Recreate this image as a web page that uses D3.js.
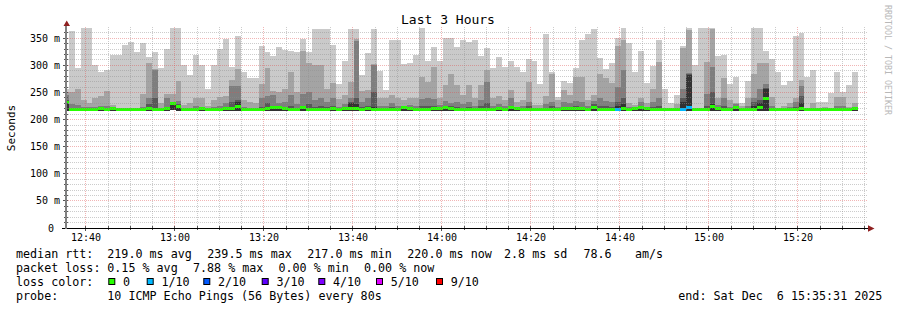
<!DOCTYPE html>
<html>
<head>
<meta charset="utf-8">
<script src="https://cdn.jsdelivr.net/npm/d3@7"></script>
<style>
  body { margin: 0; background: #fff; }
  svg text { font-family: "DejaVu Sans Mono", monospace; white-space: pre; }
</style>
</head>
<body>
<svg id="chart" width="897" height="310"></svg>
<script>
// smokeping data, one entry per 80s step (ms). pings sorted, p10 = slowest
var maxPing = [256,
  363,295,369,369,301,288,292,320,320,337,
  343,324,341,316,324,295,330,369,369,301,
  282,320,301,257,301,330,349,297,355,288,
  276,277,336,324,317,334,328,326,324,348,
  324,367,368,368,337,266,309,368,368,282,
  322,367,289,254,346,346,303,304,319,369,
  309,334,308,351,351,334,347,343,346,317,
  332,295,316,297,308,297,288,312,308,266,
  358,288,242,271,268,295,346,358,368,314,
  294,305,351,369,341,288,327,268,299,346,
  256,231,245,335,369,300,369,369,369,317,
  320,266,279,230,271,369,369,326,311,288,
  263,272,354,360,279,291,233,233,249,287,
  251,263,288];
var ping9 = [251,
  251,257,236,230,239,243,252,227,222,222,
  220,222,247,304,293,230,248,247,271,227,
  231,239,239,225,236,242,243,273,293,236,
  233,230,266,295,252,251,257,288,251,326,
  304,300,300,257,268,238,245,269,349,252,
  254,303,239,239,245,239,236,240,239,279,
  269,297,239,263,284,263,245,263,239,263,
  291,239,243,236,254,233,236,269,227,227,
  243,285,236,254,245,279,279,236,245,285,
  277,268,335,346,230,227,239,230,257,306,
  221,221,229,333,366,221,221,306,368,240,
  277,236,231,225,239,285,304,304,241,222,
  225,230,239,273,221,231,222,224,222,241,
  241,224,231];
var ping8 = [246,
  228,227,224,223,224,225,226,222,220,220,
  219,220,224,240,291,222,240,233,235,221,
  222,225,224,221,224,226,230,262,262,223,
  222,222,240,243,245,230,232,245,228,248,
  250,236,240,232,240,224,228,240,345,232,
  240,300,226,225,230,226,226,227,226,238,
  240,238,227,235,230,232,228,233,226,237,
  269,226,228,226,240,224,225,233,222,222,
  228,233,224,232,230,235,232,225,235,240,
  235,232,260,291,223,222,233,224,232,240,
  219,219,222,257,286,219,219,247,297,227,
  240,224,228,221,226,240,257,265,226,220,
  221,223,233,262,219,222,220,221,220,226,
  226,221,223];
var ping7 = [236,
  222,222,221,221,221,222,221,221,219,219,
  219,219,221,228,240,220,224,231,228,220,
  220,221,221,220,221,222,223,232,236,220,
  220,220,224,230,226,224,223,225,222,226,
  228,224,226,223,226,221,222,232,240,224,
  226,250,221,221,223,222,224,223,222,226,
  226,226,222,226,225,224,222,224,222,225,
  230,221,224,222,226,222,221,225,220,220,
  222,225,221,224,224,226,224,221,229,226,
  225,224,232,240,220,221,226,222,224,226,
  219,219,220,240,284,219,219,226,250,223,
  226,220,225,220,221,232,236,258,222,219,
  220,221,224,243,219,220,219,219,219,221,
  222,219,221];
var ping6 = [233,
  220,220,220,220,220,221,219,221,219,219,
  219,219,220,222,221,219,221,230,226,219,
  219,220,220,219,220,220,222,224,233,219,
  219,219,220,222,223,223,221,221,220,223,
  221,221,221,220,221,220,221,230,228,221,
  222,224,220,219,220,220,223,222,220,221,
  221,221,221,224,222,221,220,221,220,221,
  220,219,222,220,223,221,220,221,219,219,
  220,221,220,221,222,222,222,220,224,221,
  221,221,225,228,219,220,224,221,221,221,
  219,219,219,233,282,219,219,220,228,222,
  221,219,223,219,219,226,230,257,220,219,
  219,219,220,230,219,219,219,219,219,219,
  220,219,220];
var minPing = [216,
  216,216,216,216,216,216,216,216,216,216,
  216,216,216,216,216,216,216,217,216,216,
  216,216,216,216,216,216,216,216,216,216,
  216,216,216,216,216,216,216,216,216,216,
  216,216,216,216,216,216,216,216,216,216,
  216,216,216,216,216,216,216,216,216,216,
  216,216,216,216,216,216,216,216,216,216,
  216,216,216,216,216,216,216,216,216,216,
  216,216,216,216,216,216,216,216,216,216,
  216,216,216,216,216,216,216,216,216,216,
  216,216,216,216,216,216,216,216,216,216,
  216,216,216,216,216,216,216,216,216,216,
  216,216,216,216,216,216,216,216,216,216,
  216,216,216];
var medianRtt = [231,
  219,219,219,219,219,220,218,220,218,218,
  218,219,219,220,218,218,220,229,224,218,
  219,219,220,218,219,219,221,221,224,218,
  218,218,218,220,222,222,220,219,219,222,
  219,219,219,219,220,219,220,221,220,219,
  220,218,219,218,219,218,222,221,219,219,
  219,220,220,223,221,219,219,219,219,219,
  218,218,221,219,222,220,219,219,218,219,
  219,219,219,220,221,221,221,219,222,219,
  219,219,219,221,218,220,222,221,219,218,
  218,218,218,219,222,218,218,218,224,221,
  219,218,222,219,218,218,223,239.5,218,218,
  218,218,218,220,218,218,218,218,218,218,
  219,218,220];
// lost pings out of 10
var lostPings = [0,
  0,0,0,0,0,0,0,0,0,0,
  0,0,0,0,0,0,0,0,0,0,
  0,0,0,0,0,0,0,0,0,0,
  0,0,0,0,0,0,0,0,0,0,
  0,0,0,0,0,0,0,0,0,0,
  0,0,0,0,0,0,0,0,0,0,
  0,0,0,0,0,0,0,0,0,0,
  0,0,0,0,0,0,0,0,0,0,
  0,0,0,0,0,0,0,0,0,0,
  0,0,1,0,0,0,0,0,0,0,
  0,0,0,1,1,0,0,0,0,0,
  0,0,0,0,0,0,0,0,0,0,
  0,0,0,0,0,0,0,0,0,0,
  0,0,0];

var yTicks = [0, 50, 100, 150, 200, 250, 300, 350];
var lossLevels = [0, 1, 2, 3, 4, 5, 9];
var lossLabels = ["0", "1/10", "2/10", "3/10", "4/10", "5/10", "9/10"];
var lossColors = ["#26ff00", "#00b8ff", "#0059ff", "#5e00ff", "#7e00ff", "#dd00ff", "#ff0000"];
var rttStats = ["219.0 ms avg", "239.5 ms max", "217.0 ms min", "220.0 ms now", "2.8 ms sd", "78.6", "am/s"];
var lossStats = ["0.15 % avg", "7.88 % max", "0.00 % min", "0.00 % now"];
var probeText = "10 ICMP Echo Pings (56 Bytes) every 80s";
var endText = "end: Sat Dec  6 15:35:31 2025";

var graphStart = new Date(2025, 11, 6, 12, 35, 31);
var graphEnd = new Date(2025, 11, 6, 15, 35, 31);
var firstBin = new Date(2025, 11, 6, 12, 34, 48);
var step = 80;

var svg = d3.select("#chart");
var plotLeft = 66, plotRight = 867, plotTop = 28, plotBottom = 228;

var x = d3.scaleTime().domain([graphStart, graphEnd]).range([plotLeft, plotRight]);
var y = d3.scaleLinear().domain([0, 369]).range([plotBottom, plotTop]);

var rows = maxPing.map(function(d, i) {
  var t0 = d3.timeSecond.offset(firstBin, i * step);
  return { t0: t0, t1: d3.timeSecond.offset(t0, step), lo: minPing[i],
    p10: d, p9: ping9[i], p8: ping8[i], p7: ping7[i], p6: ping6[i],
    med: medianRtt[i], loss: lostPings[i] };
});

svg.append("clipPath").attr("id", "plotclip")
  .append("rect").attr("x", plotLeft).attr("y", plotTop - 2)
  .attr("width", plotRight - plotLeft + 1).attr("height", plotBottom - plotTop + 2);

var plot = svg.append("g").attr("clip-path", "url(#plotclip)");

// smoke: outer pings lightest, inner pings darker
var bands = [
  { key: "p10", color: "#cacaca" },
  { key: "p9", color: "#a4a4a4" },
  { key: "p8", color: "#7e7e7e" },
  { key: "p7", color: "#585858" },
  { key: "p6", color: "#323232" }
];
bands.forEach(function(b) {
  plot.append("g").selectAll("rect").data(rows).enter().append("rect")
    .attr("x", function(d) { return x(d.t0); })
    .attr("width", function(d) { return x(d.t1) - x(d.t0); })
    .attr("y", function(d) { return y(d[b.key]); })
    .attr("height", function(d) { return y(d.lo) - y(d[b.key]); })
    .attr("fill", b.color)
    .attr("shape-rendering", "crispEdges");
});

function lossColor(n) {
  var c = lossColors[0];
  lossLevels.forEach(function(l, i) { if (n >= l) c = lossColors[i]; });
  return c;
}

// median, coloured by loss
plot.append("g").selectAll("rect").data(rows).enter().append("rect")
  .attr("x", function(d) { return x(d.t0); })
  .attr("width", function(d) { return x(d.t1) - x(d.t0); })
  .attr("y", function(d) { return y(d.med) - 1.5; })
  .attr("height", 3)
  .attr("fill", function(d) { return lossColor(d.loss); })
  .attr("shape-rendering", "crispEdges");

// grid (rrdtool draws it over the graph)
var grid = svg.append("g").attr("shape-rendering", "crispEdges");
var minorGrid = "rgba(143,143,143,0.45)", majorGrid = "rgba(222,79,79,0.42)";

d3.range(10, 369, 10).forEach(function(v) {
  grid.append("line").attr("x1", plotLeft).attr("x2", plotRight + 1)
    .attr("y1", y(v)).attr("y2", y(v))
    .attr("stroke", v % 50 === 0 ? majorGrid : minorGrid)
    .attr("stroke-dasharray", "1,1");
});

var minorTimes = d3.timeMinute.every(5).range(graphStart, graphEnd);
var majorTimes = minorTimes.filter(function(t) { return t.getMinutes() % 20 === 0; });
minorTimes.forEach(function(t) {
  var major = t.getMinutes() % 20 === 0;
  grid.append("line").attr("x1", x(t)).attr("x2", x(t))
    .attr("y1", plotTop - 1).attr("y2", plotBottom)
    .attr("stroke", major ? majorGrid : minorGrid)
    .attr("stroke-dasharray", "1,1");
});

// axes
var axes = svg.append("g").attr("shape-rendering", "crispEdges");
minorTimes.forEach(function(t) {
  var major = t.getMinutes() % 20 === 0;
  axes.append("line").attr("x1", x(t)).attr("x2", x(t))
    .attr("y1", plotBottom - 2).attr("y2", plotBottom + (major ? 3 : 2))
    .attr("stroke", "#555");
});
d3.range(10, 369, 10).forEach(function(v) {
  axes.append("line").attr("x1", plotLeft - (v % 50 === 0 ? 3 : 2)).attr("x2", plotLeft + 2)
    .attr("y1", y(v)).attr("y2", y(v)).attr("stroke", "#555");
});
axes.append("line").attr("x1", 62).attr("x2", 870)
  .attr("y1", plotBottom + 0.5).attr("y2", plotBottom + 0.5).attr("stroke", "#000");
axes.append("rect").attr("x", plotLeft - 1).attr("y", 24)
  .attr("width", 2).attr("height", plotBottom - 24 + 1).attr("fill", "#808080");

svg.append("path").attr("d", "M63.5,26 L70,26 L66.7,20.5 Z").attr("fill", "#8f2020");
svg.append("path").attr("d", "M868,225.3 L868,231.7 L874.5,228.5 Z").attr("fill", "#8f2020");

// tick labels
svg.append("g").selectAll("text").data(yTicks).enter().append("text")
  .attr("x", 60).attr("y", function(d) { return y(d) + 3.6; })
  .attr("text-anchor", "end").attr("font-size", 10).attr("fill", "#000")
  .text(function(d) { return d === 0 ? "0 " : d + " m"; });

var fmt = d3.timeFormat("%H:%M");
svg.append("g").selectAll("text").data(majorTimes).enter().append("text")
  .attr("x", function(d) { return x(d); }).attr("y", 240.6)
  .attr("text-anchor", "middle").attr("font-size", 10).attr("fill", "#000")
  .text(fmt);

// title, unit, watermark
svg.append("text").attr("x", 448).attr("y", 24).attr("text-anchor", "middle")
  .attr("font-size", 13).attr("fill", "#000").text("Last 3 Hours");
svg.append("text").attr("transform", "translate(15,128) rotate(-90)")
  .attr("text-anchor", "middle").attr("font-size", 11).attr("fill", "#000").text("Seconds");
svg.append("text").attr("transform", "translate(885,5) rotate(90)")
  .attr("font-size", 8.3).attr("fill", "#b8b8b8").text("RRDTOOL / TOBI OETIKER");

// legend
var leg = svg.append("g").attr("font-size", 11.7).attr("fill", "#000");
function legText(tx, ty, s) { leg.append("text").attr("x", tx).attr("y", ty).text(s); }

legText(16, 258, "median rtt:");
[107.3, 207.3, 307.3, 407.3, 504, 583.5, 635].forEach(function(px, i) { legText(px, 258, rttStats[i]); });
legText(16, 272, "packet loss:");
[107.3, 193, 278.5, 364].forEach(function(px, i) { legText(px, 272, lossStats[i]); });
legText(16, 286, "loss color:");
var boxX = [108.3, 146.7, 203.3, 261.7, 318.3, 376, 436];
lossLabels.forEach(function(l, i) {
  leg.append("rect").attr("x", boxX[i] + 0.5).attr("y", 278.5).attr("width", 6).attr("height", 6)
    .attr("fill", lossColors[i]).attr("stroke", "#000").attr("stroke-width", 1);
  legText(boxX[i] + 14.7, 286, l);
});
legText(16, 300, "probe:");
legText(107.3, 300, probeText);
legText(678.3, 300, endText);
</script>
</body>
</html>
